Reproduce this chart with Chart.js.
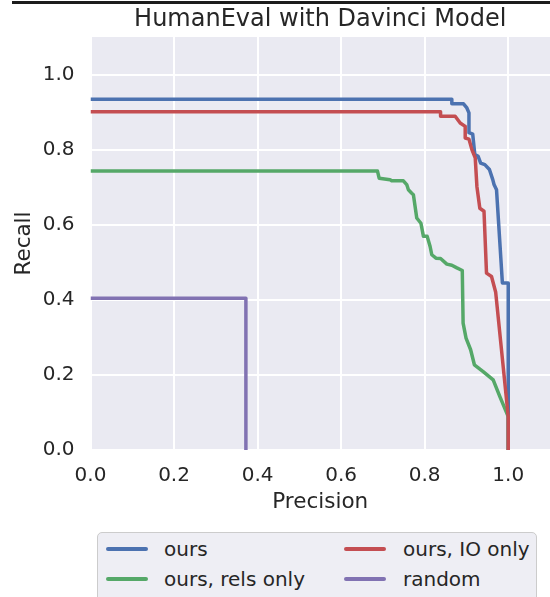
<!DOCTYPE html>
<html><head><meta charset="utf-8">
<script src="https://cdn.jsdelivr.net/npm/chart.js@4"></script>
<style>
body{margin:0;background:#fff;width:550px;height:597px;overflow:hidden;position:relative;font-family:"DejaVu Sans";}
#wrap{position:absolute;left:0;top:0;width:550px;height:520px;}
#topline{position:absolute;left:12px;top:1px;width:538px;height:3px;background:#1c1c1c;}
#legend{position:absolute;left:97px;top:532px;width:440px;height:90px;background:#EEEEF4;border:1px solid #CCCCCC;border-radius:5px;box-sizing:border-box;}
.item{position:absolute;height:24px;font-size:20px;color:#262626;line-height:24px;white-space:nowrap;}
.item .h{position:absolute;top:10px;height:3.5px;width:42px;border-radius:2px;}
.item .t{position:absolute;top:0;}
</style></head>
<body>
<div id="topline"></div>
<div id="wrap"><canvas id="c"></canvas></div>
<div id="legend"></div>
<script>
const titleText = "HumanEval with Davinci Model";
const xLabel = "Precision";
const yLabel = "Recall";
const xTickValues = [0, 0.2, 0.4, 0.6, 0.8, 1.0];
const yTickValues = [0, 0.2, 0.4, 0.6, 0.8, 1.0];

const seriesNames = ["ours", "ours, rels only", "ours, IO only", "random"];
const seriesColors = ["#4C72B0", "#55A868", "#C44E52", "#8172B2"];

const oursPrecision = [0, 0.865, 0.865, 0.893, 0.901, 0.906, 0.906, 0.915, 0.920, 0.928, 0.934, 0.944, 0.955, 0.963, 0.966, 0.972, 0.986, 1.0, 1.0, 1.0];
const oursRecall    = [0.934, 0.934, 0.922, 0.922, 0.911, 0.898, 0.845, 0.841, 0.787, 0.782, 0.764, 0.760, 0.747, 0.720, 0.707, 0.693, 0.445, 0.445, 0.089, 0];

const relsPrecision = [0, 0.687, 0.691, 0.717, 0.721, 0.749, 0.757, 0.761, 0.769, 0.773, 0.781, 0.791, 0.797, 0.806, 0.813, 0.817, 0.827, 0.838, 0.853, 0.865, 0.877, 0.890, 0.892, 0.899, 0.910, 0.919, 0.940, 0.964, 0.980, 1.0, 1.0];
const relsRecall    = [0.743, 0.743, 0.724, 0.720, 0.717, 0.717, 0.707, 0.693, 0.684, 0.680, 0.618, 0.604, 0.569, 0.569, 0.542, 0.520, 0.511, 0.510, 0.495, 0.492, 0.485, 0.478, 0.338, 0.298, 0.267, 0.227, 0.209, 0.187, 0.142, 0.089, 0];

const ioPrecision = [0, 0.838, 0.838, 0.873, 0.885, 0.897, 0.897, 0.906, 0.913, 0.921, 0.925, 0.932, 0.942, 0.948, 0.960, 0.970, 1.0, 1.0];
const ioRecall    = [0.901, 0.901, 0.889, 0.889, 0.871, 0.862, 0.831, 0.828, 0.800, 0.778, 0.702, 0.644, 0.636, 0.471, 0.462, 0.420, 0.089, 0];

const randomPrecision = [0, 0.372, 0.372];
const randomRecall    = [0.404, 0.404, 0];

const FONT = "DejaVu Sans";
const TXT = "#262626";

function pts(xs, ys){ return xs.map((x,i)=>({x:x, y:ys[i]})); }
const seriesData = [pts(oursPrecision, oursRecall), pts(relsPrecision, relsRecall), pts(ioPrecision, ioRecall), pts(randomPrecision, randomRecall)];

const datasets = seriesNames.map((n,i)=>({
  label:n, data:seriesData[i], borderColor:seriesColors[i], backgroundColor:seriesColors[i],
  borderWidth:3.5, pointRadius:0, tension:0, showLine:true, fill:false, clip:0,
  order: seriesNames.length - i, borderJoinStyle:'round', borderCapStyle:'butt'
}));

const bgPlugin = {id:'bg', beforeDraw(chart){
  const {ctx, chartArea:{left,top,right,bottom}} = chart;
  ctx.save(); ctx.fillStyle = '#EAEAF2'; ctx.fillRect(left, top, right-left, bottom-top); ctx.restore();
}};

new Chart(document.getElementById('c'), {
  type:'scatter',
  data:{datasets},
  plugins:[bgPlugin],
  options:{
    responsive:true, maintainAspectRatio:false, animation:false,
    layout:{padding:0},
    plugins:{
      legend:{display:false}, tooltip:{enabled:false},
      title:{display:true, text:titleText, fullSize:false, color:TXT, font:{family:FONT, size:24, weight:'normal'}, padding:{top:5.6, bottom:2.6}}
    },
    scales:{
      x:{type:'linear', min:0, max:1.1,
        afterBuildTicks(s){ s.ticks = xTickValues.map(v=>({value:v})); },
        afterFit(s){ s.height = 70; },
        grid:{color:'#ffffff', lineWidth:2, drawTicks:false}, border:{display:false},
        ticks:{padding:14, color:TXT, font:{family:FONT, size:20}, maxRotation:0, autoSkip:false, callback:v=>Number(v).toFixed(1)},
        title:{display:true, text:xLabel, color:TXT, font:{family:FONT, size:21.5}, padding:{top:0, bottom:5}}
      },
      y:{type:'linear', min:0, max:1.1,
        afterBuildTicks(s){ s.ticks = yTickValues.map(v=>({value:v})); },
        afterFit(s){ s.width = 90.5; },
        grid:{color:'#ffffff', lineWidth:2, drawTicks:false}, border:{display:false},
        ticks:{padding:16, color:TXT, font:{family:FONT, size:20}, autoSkip:false, callback:v=>Number(v).toFixed(1)},
        title:{display:true, text:yLabel, color:TXT, font:{family:FONT, size:21.5}, padding:{top:11.5, bottom:0}}
      }
    }
  }
});

// legend (matplotlib-style, 2 columns filled column-wise)
const lg = document.getElementById('legend');
const colX = [[8,66],[246,305]];
const rowY = [4,34];
seriesNames.forEach((n,i)=>{
  const col = Math.floor(i/2), row = i%2;
  const d = document.createElement('div'); d.className='item';
  d.style.left='0px'; d.style.top=rowY[row]+'px';
  const h = document.createElement('span'); h.className='h'; h.style.left=colX[col][0]+'px'; h.style.background=seriesColors[i];
  const t = document.createElement('span'); t.className='t'; t.style.left=colX[col][1]+'px'; t.textContent=n;
  d.appendChild(h); d.appendChild(t); lg.appendChild(d);
});
</script>
</body></html>
